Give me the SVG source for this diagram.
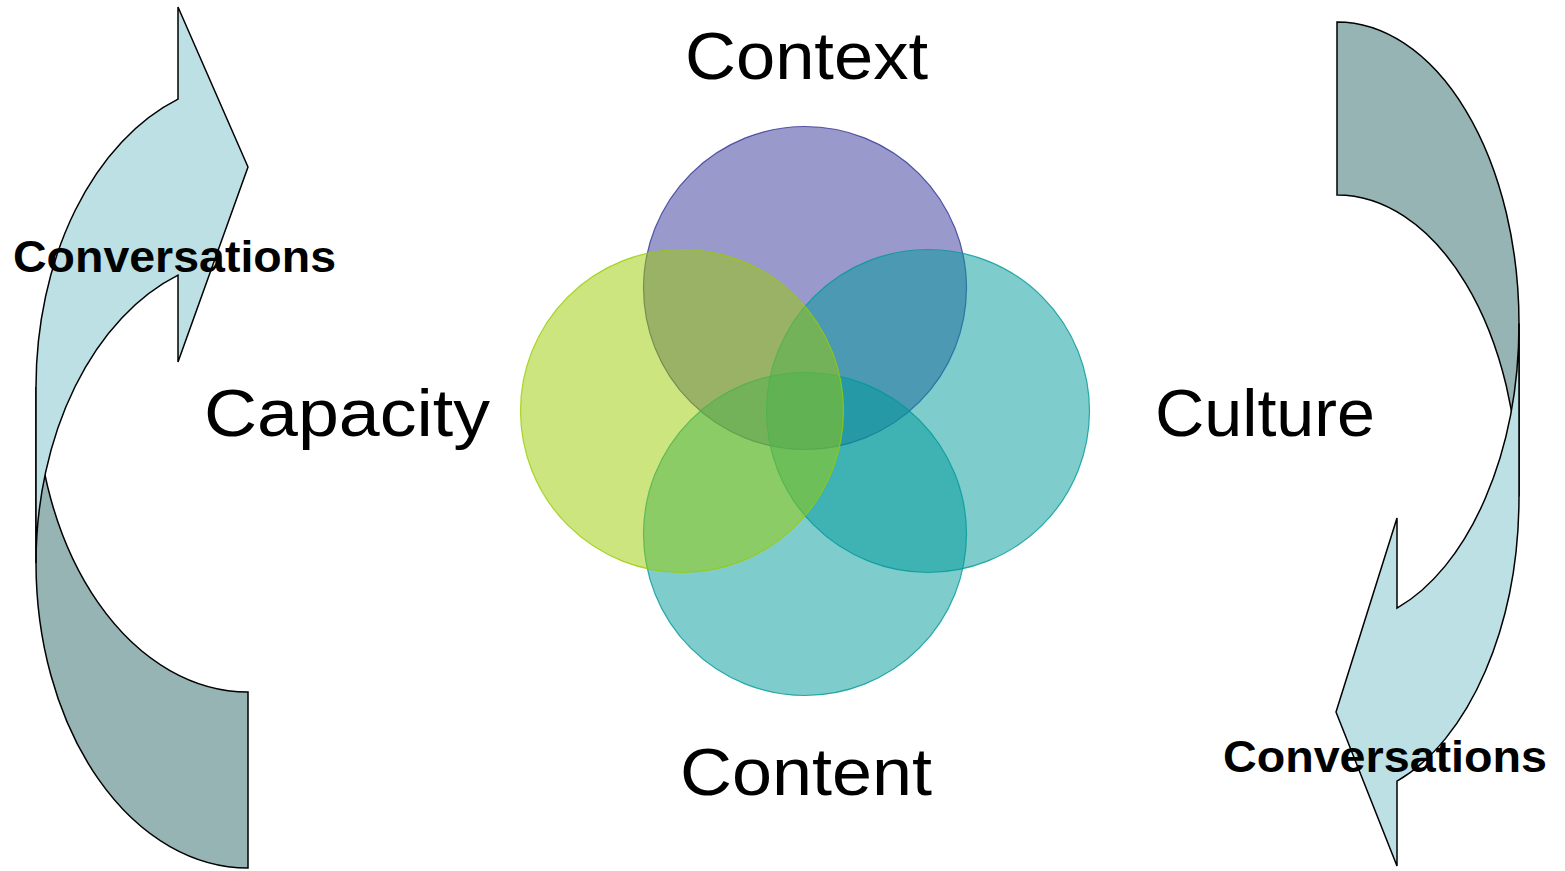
<svg xmlns="http://www.w3.org/2000/svg" width="1565" height="871" viewBox="0 0 1565 871">
  <style>
    .arrow-back { fill: #97b4b5; stroke: #000; stroke-width: 1.5; stroke-linejoin: miter; }
    .arrow-front { fill: #bce0e4; stroke: #000; stroke-width: 1.5; stroke-linejoin: miter; }
    .label { font-family: "Liberation Sans", Arial, sans-serif; font-size: 66px; fill: #000; }
    .conv { font-family: "Liberation Sans", Arial, sans-serif; font-size: 44px; font-weight: bold; fill: #000; }
    .venn { stroke-width: 1.2; }
  </style>
  <rect width="1565" height="871" fill="#ffffff"/>

  <g id="connectors">
    <g id="arrow-left">
      <path class="arrow-back" d="M 248 868 A 212 305 0 0 1 36 563 L 36 387 A 212 305 0 0 0 248 692 Z"/>
      <path class="arrow-front" d="M 36 563 A 212 305 0 0 1 178 275.1 L 178 362 L 248 167 L 178 7 L 178 99.1 A 212 305 0 0 0 36 387 Z"/>
    </g>
    <g id="arrow-right">
      <path class="arrow-back" d="M 1337 22 A 182 301.5 0 0 1 1519 323.5 L 1519 496.5 A 182 301.5 0 0 0 1337 195 Z"/>
      <path class="arrow-front" d="M 1519 323.5 A 182 301.5 0 0 1 1397 608.15 L 1397 518 L 1336 712 L 1397 866 L 1397 781.15 A 182 301.5 0 0 0 1519 496.5 Z"/>
    </g>
  </g>

  <g id="node-context">
    <circle class="venn" cx="805" cy="288" r="161.5" fill="#333399" fill-opacity="0.5" stroke="#333399" stroke-opacity="0.8"/>
  </g>
  <g id="node-culture">
    <circle class="venn" cx="928" cy="411" r="161.5" fill="#009999" fill-opacity="0.5" stroke="#009999" stroke-opacity="0.8"/>
  </g>
  <g id="node-content">
    <circle class="venn" cx="805" cy="534" r="161.5" fill="#009999" fill-opacity="0.5" stroke="#009999" stroke-opacity="0.8"/>
  </g>
  <g id="node-capacity">
    <circle class="venn" cx="682" cy="411" r="161.5" fill="#99cc00" fill-opacity="0.5" stroke="#99cc00" stroke-opacity="0.8"/>
  </g>

  <g id="labels">
    <text class="label" x="685" y="79" textLength="243" lengthAdjust="spacingAndGlyphs">Context</text>
    <text class="label" x="204" y="436" textLength="286" lengthAdjust="spacingAndGlyphs">Capacity</text>
    <text class="label" x="1155" y="436" textLength="220" lengthAdjust="spacingAndGlyphs">Culture</text>
    <text class="label" x="680" y="795" textLength="252" lengthAdjust="spacingAndGlyphs">Content</text>
    <text class="conv" x="13" y="272" textLength="323" lengthAdjust="spacingAndGlyphs">Conversations</text>
    <text class="conv" x="1223" y="772" textLength="324" lengthAdjust="spacingAndGlyphs">Conversations</text>
  </g>
</svg>
